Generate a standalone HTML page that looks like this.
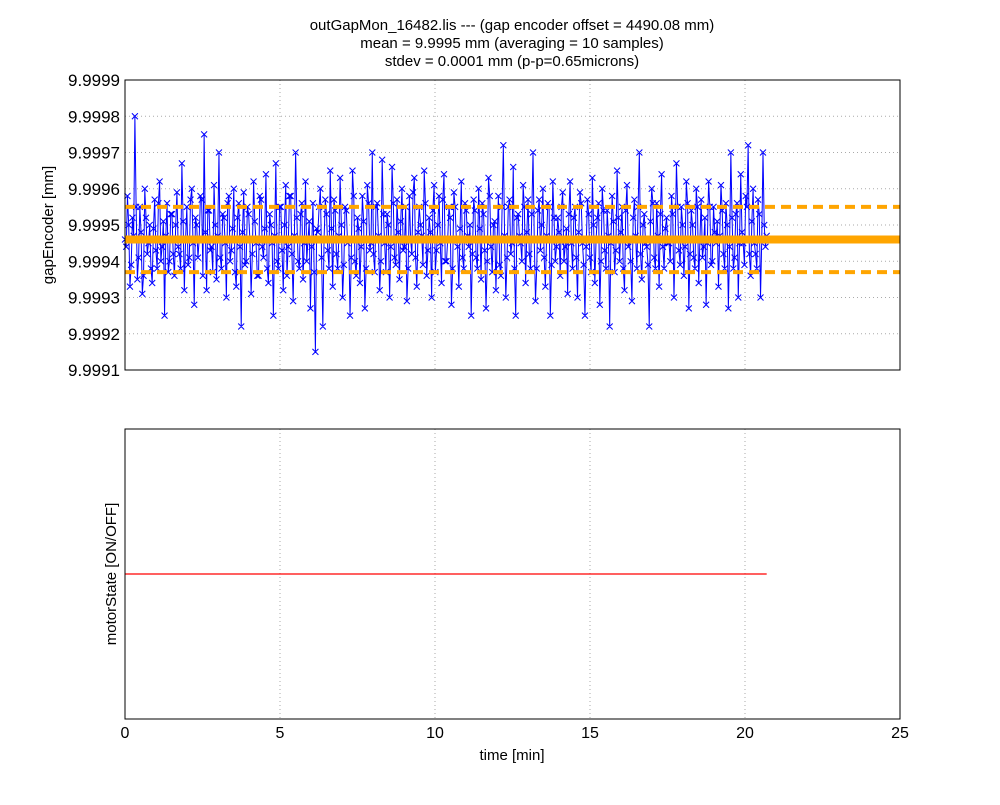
<!DOCTYPE html>
<html><head><meta charset="utf-8"><style>
body{margin:0;background:#fff;}
svg text{font-family:"Liberation Sans",sans-serif;fill:#000;}
</style></head><body>
<svg id="chart" width="1000" height="800" xmlns="http://www.w3.org/2000/svg">
<rect width="1000" height="800" fill="#fff"/>
<g font-size="15" text-anchor="middle">
<text x="512" y="30">outGapMon_16482.lis --- (gap encoder offset = 4490.08 mm)</text>
<text x="512" y="48">mean = 9.9995 mm (averaging = 10 samples)</text>
<text x="512" y="66">stdev = 0.0001 mm (p-p=0.65microns)</text>
</g>
<g id="topAxes"></g>
<g id="botAxes"></g>
</svg>
<script>
// gap encoder readings: offset from 9.9990 mm, in units of 1e-5 mm
const gapValues = [
46,44,58,50,33,39,52,47,80,55,35,41,55,48,31,36,60,52,42,45,50,38,34,49,57,43,38,56,62,40,44,51,25,47,56,37,40,53,53,42,
36,50,59,44,42,38,67,51,32,46,55,39,41,57,60,45,28,52,50,41,46,58,57,36,75,48,32,54,54,43,44,37,61,50,35,47,70,41,38,53,
52,45,30,56,58,40,43,49,60,37,33,52,56,44,22,48,59,39,40,55,53,46,31,42,62,51,45,36,36,58,57,44,41,49,64,38,34,53,50,45,
25,47,67,40,38,55,55,43,32,50,61,36,44,58,58,42,29,47,70,52,40,38,53,56,35,45,62,40,46,51,27,44,56,37,15,49,48,55,60,41,
22,46,57,53,43,38,65,49,33,57,54,42,38,47,63,50,30,39,55,54,45,46,25,41,65,58,40,36,52,49,34,44,58,51,27,38,61,56,43,45,
70,42,37,55,56,47,32,40,68,53,45,37,53,50,30,44,66,56,41,39,57,48,35,51,60,43,44,55,29,38,58,46,42,59,63,41,33,48,55,50,
47,39,65,56,36,43,52,48,30,54,61,37,43,50,58,45,34,57,64,40,40,46,55,52,28,38,59,55,46,44,33,49,62,41,38,56,54,47,44,50,
25,42,57,54,41,38,60,49,35,56,53,43,27,40,63,58,44,37,50,51,32,46,58,39,36,55,72,47,30,41,55,57,42,45,66,38,25,52,53,47,
45,40,61,55,34,48,57,42,38,53,70,46,29,38,54,57,43,50,60,41,33,47,56,55,25,39,62,52,40,44,52,48,36,55,59,40,44,49,31,53,
62,45,38,52,55,41,30,48,59,56,45,39,25,44,57,53,41,37,63,50,34,46,52,56,28,40,60,54,43,38,54,47,22,45,58,51,37,43,65,52,
40,48,55,38,32,54,61,44,46,40,29,52,57,47,38,55,70,42,35,50,53,45,44,39,22,51,60,56,41,38,56,47,33,53,64,44,38,49,52,45,
45,40,58,53,30,46,67,55,43,39,55,50,36,44,62,56,27,42,54,50,41,38,60,55,34,46,57,41,44,52,28,45,62,55,39,40,55,48,45,51,
33,47,61,54,42,38,56,50,27,44,70,52,38,41,53,56,30,45,64,48,45,39,58,55,72,42,36,51,60,45,42,38,57,53,30,46,70,50,44,47];
const tStart = 0.0, tEnd = 20.7;
const gapMean = 9.99946, gapUpper = 9.99955, gapLower = 9.99937;
const motorTimes = [0, 20.7];
const motorValues = [0, 0];
const xTicks = [0,5,10,15,20,25];
const yTicks = [9.9991,9.9992,9.9993,9.9994,9.9995,9.9996,9.9997,9.9998,9.9999];

const NS="http://www.w3.org/2000/svg";
function mk(p,tag,attrs){const e=document.createElementNS(NS,tag);for(const k in attrs)e.setAttribute(k,attrs[k]);p.appendChild(e);return e;}
const L=125,R=900;
const x=t=>L+(t-0)/(25-0)*(R-L);
const T={top:80,bot:370,min:9.9991,max:9.9999};
const yT=v=>T.bot-(v-T.min)/(T.max-T.min)*(T.bot-T.top);
const B={top:429,bot:719,min:-1,max:1};
const yB=v=>B.bot-(v-B.min)/(B.max-B.min)*(B.bot-B.top);

const topG=document.getElementById('topAxes'), botG=document.getElementById('botAxes');
xTicks.forEach(t=>{
 let g=mk(topG,'line',{x1:x(t),x2:x(t),y1:T.top,y2:T.bot,stroke:'#aaa','stroke-dasharray':'1,3'});
 
 
 let g2=mk(botG,'line',{x1:x(t),x2:x(t),y1:B.top,y2:B.bot,stroke:'#aaa','stroke-dasharray':'1,3'});
 
 
});
yTicks.forEach(v=>{
 let g=mk(topG,'line',{x1:L,x2:R,y1:yT(v),y2:yT(v),stroke:'#aaa','stroke-dasharray':'1,3'});
 
 
 let tx=mk(topG,'text',{x:L-5,y:yT(v)+6,'font-size':17,'text-anchor':'end'});
 tx.textContent=v.toFixed(4);
 
 
});
const n=gapValues.length;
const pts=gapValues.map((v,i)=>[x(tStart+(tEnd-tStart)*i/(n-1)),yT(9.999+v*1e-5)]);
let line=mk(topG,'polyline',{points:pts.map(p=>p.join(',')).join(' '),fill:'none',stroke:'#0000ff','stroke-width':1});


let md='';pts.forEach(p=>{md+=`M${p[0]-3},${p[1]-3}l6,6M${p[0]-3},${p[1]+3}l6,-6`;});
let mp=mk(topG,'path',{d:md,stroke:'#0000ff','stroke-width':1,fill:'none'});


let ml=mk(topG,'line',{x1:L,x2:R,y1:yT(gapMean),y2:yT(gapMean),stroke:'#ffa500','stroke-width':8});


[gapUpper,gapLower].forEach(v=>{
 let d=mk(topG,'line',{x1:L,x2:R,y1:yT(v),y2:yT(v),stroke:'#ffa500','stroke-width':4,'stroke-dasharray':'10,6'});
 
 
});
let f1=mk(topG,'rect',{x:L,y:T.top,width:R-L,height:T.bot-T.top,fill:'none',stroke:'#000'});


let yl=mk(topG,'text',{x:0,y:0,'font-size':15,'text-anchor':'middle',transform:`translate(53,${(T.top+T.bot)/2}) rotate(-90)`});
yl.textContent='gapEncoder [mm]';


let mline=mk(botG,'polyline',{points:motorTimes.map((t,i)=>x(t)+','+yB(motorValues[i])).join(' '),fill:'none',stroke:'#ff0000','stroke-width':1.2});


let f2=mk(botG,'rect',{x:L,y:B.top,width:R-L,height:B.bot-B.top,fill:'none',stroke:'#000'});


xTicks.forEach(t=>{
 let tx=mk(botG,'text',{x:x(t),y:738,'font-size':16,'text-anchor':'middle'});
 tx.textContent=t;
 
 
});
let xl=mk(botG,'text',{x:512,y:760,'font-size':15,'text-anchor':'middle'});
xl.textContent='time [min]';


let yl2=mk(botG,'text',{x:0,y:0,'font-size':15,'text-anchor':'middle',transform:`translate(116,${(B.top+B.bot)/2}) rotate(-90)`});
yl2.textContent='motorState [ON/OFF]';


</script>
</body></html>
